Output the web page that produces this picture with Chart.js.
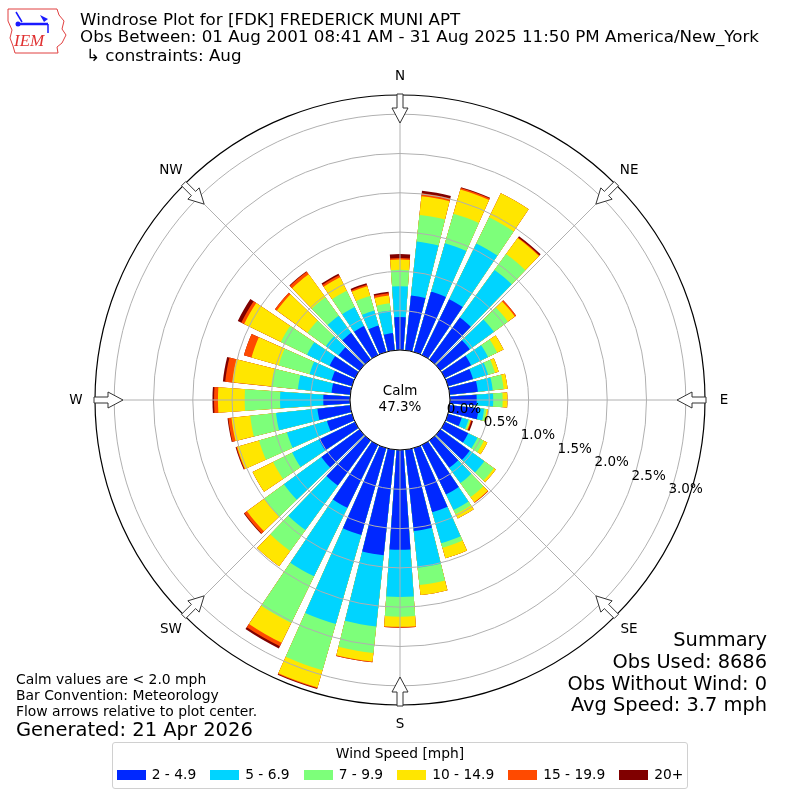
<!DOCTYPE html>
<html><head><meta charset="utf-8">
<script src="https://cdn.jsdelivr.net/npm/chart.js@4.4.1/dist/chart.umd.min.js"></script>
<style>
html,body{margin:0;padding:0;background:#fff;}
#wrap{position:relative;width:800px;height:800px;overflow:hidden;font-family:'DejaVu Sans',sans-serif;color:#000;}
#cw{position:absolute;left:0;top:0;width:800px;height:800px;}
.t{position:absolute;white-space:nowrap;line-height:1;}
.r{text-align:right;right:33px;}
#legend{position:absolute;left:112px;top:742px;width:574px;height:45px;border:1px solid #d0d0d0;border-radius:3px;background:#fff;}
#legTitle{position:absolute;top:4px;left:0;width:100%;text-align:center;font-size:13.8px;line-height:1;white-space:nowrap;}
#legItems{position:absolute;top:25px;left:0;width:100%;display:flex;justify-content:center;font-size:13.8px;line-height:1;white-space:nowrap;}
.li{display:flex;align-items:center;margin:0 7px;white-space:nowrap;flex:none;}
.lb{width:29px;height:10px;margin-right:6px;flex:none;}
</style></head><body>
<div id="wrap">
<div id="cw"><canvas id="c"></canvas></div>
<svg style="position:absolute;left:0;top:0" width="75" height="60" viewBox="0 0 75 60">
  <path d="M8,9 L57,9 L59,15 L64,21 L62,29 L66,35 L62,43 L57,47 L58,53 L15,53 L13,46 L10,38 L12,30 L8,21 Z" fill="#fff" stroke="#e04040" stroke-width="1"/>
  <line x1="20" y1="24" x2="48" y2="24" stroke="#1a1aff" stroke-width="2.5"/>
  <line x1="16" y1="12" x2="22" y2="22" stroke="#1a1aff" stroke-width="1.5"/>
  <path d="M40,15 L48,19 L44,22 Z" fill="#1a1aff"/>
  <line x1="48" y1="24" x2="48" y2="33" stroke="#1a1aff" stroke-width="1.5"/>
  <circle cx="18" cy="24" r="2.5" fill="#1a1aff"/>
  <text x="14" y="46" font-family="Liberation Serif,serif" font-style="italic" font-size="17" fill="#e03030">IEM</text>
</svg>
<div class="t" style="left:80px;top:11px;font-size:16.7px">Windrose Plot for [FDK] FREDERICK MUNI APT</div>
<div class="t" style="left:80px;top:28px;font-size:16.7px">Obs Between: 01 Aug 2001 08:41 AM - 31 Aug 2025 11:50 PM America/New_York</div>
<div class="t" style="left:86px;top:47px;font-size:16.7px">↳ constraints: Aug</div>
<div class="t r" style="top:630px;font-size:19.4px">Summary</div>
<div class="t r" style="top:652px;font-size:19.4px">Obs Used: 8686</div>
<div class="t r" style="top:674px;font-size:19.4px">Obs Without Wind: 0</div>
<div class="t r" style="top:695px;font-size:19.4px">Avg Speed: 3.7 mph</div>
<div class="t" style="left:16px;top:673px;font-size:13.9px">Calm values are &lt; 2.0 mph</div>
<div class="t" style="left:16px;top:689px;font-size:13.9px">Bar Convention: Meteorology</div>
<div class="t" style="left:16px;top:705px;font-size:13.9px">Flow arrows relative to plot center.</div>
<div class="t" style="left:16px;top:720px;font-size:19.5px">Generated: 21 Apr 2026</div>
<div id="legend"><div id="legTitle">Wind Speed [mph]</div><div id="legItems"></div></div>
</div>
<script>
// ---- data (percent of observations) ----
const directions = [0,10,20,30,40,50,60,70,80,90,100,110,120,130,140,150,160,170,180,190,200,210,220,230,240,250,260,270,280,290,300,310,320,330,340,350];
const speedBins = ['2 - 4.9','5 - 6.9','7 - 9.9','10 - 14.9','15 - 19.9','20+'];
const spd2to4_9 = [0.42,0.70,0.80,0.79,0.66,0.46,0.37,0.33,0.36,0.34,0.37,0.18,0.33,0.46,0.43,0.70,0.85,1.04,1.27,1.35,1.15,0.89,0.71,0.60,0.51,0.33,0.42,0.34,0.24,0.27,0.36,0.33,0.42,0.41,0.35,0.22];
const spd5to6_9 = [0.39,0.69,0.64,0.79,0.75,0.38,0.24,0.20,0.19,0.21,0.07,0.09,0.13,0.23,0.24,0.22,0.41,0.47,0.60,0.91,1.18,0.97,0.70,0.59,0.38,0.53,0.53,0.55,0.43,0.29,0.32,0.20,0.27,0.27,0.20,0.29];
const spd7to9_9 = [0.21,0.34,0.39,0.37,0.25,0.22,0.13,0.09,0.14,0.12,0.03,0.02,0.09,0.15,0.22,0.06,0.06,0.22,0.25,0.34,0.61,0.66,0.33,0.31,0.27,0.37,0.33,0.45,0.34,0.41,0.37,0.29,0.29,0.23,0.19,0.09];
const spd10to14_9 = [0.13,0.24,0.32,0.34,0.25,0.11,0.09,0.05,0.05,0.06,0.02,0.01,0.05,0.03,0.08,0.06,0.14,0.13,0.13,0.11,0.23,0.28,0.24,0.27,0.29,0.29,0.24,0.34,0.50,0.36,0.52,0.48,0.36,0.19,0.13,0.10];
const spd15to19_9 = [0.02,0.04,0.02,0,0.01,0.02,0,0,0,0,0,0.01,0,0,0.01,0,0,0,0.01,0.01,0.01,0.05,0,0.04,0,0.01,0.04,0.05,0.09,0.10,0.04,0.03,0.04,0.03,0.02,0.03];
const spd20plus = [0.05,0.03,0.01,0,0.02,0,0,0,0,0,0,0.02,0,0,0,0,0,0,0,0,0.01,0.03,0,0.01,0,0.01,0.01,0.02,0.03,0,0.05,0,0.01,0.02,0.02,0.02];
const radialTicks = [0,0.5,1.0,1.5,2.0,2.5,3.0];
const compassLabels = ['N','NE','E','SE','S','SW','W','NW'];
const calmPercent = 47.3;

// ---- styling ----
const speedColors = ['#0028ff','#00d4ff','#7dff7a','#ffe600','#ff4a00','#800000'];
const R_MIN = -0.6361, R_MAX = 3.2443;
const BAR_DEG = 8, GAP_DEG = 2;
const FONT = '"DejaVu Sans", sans-serif';

const series = [spd2to4_9, spd5to6_9, spd7to9_9, spd10to14_9, spd15to19_9, spd20plus];
const labels = [];
directions.forEach(d => { labels.push(d + '°'); labels.push(''); });
const running = directions.map(() => 0);
const datasets = series.map((s, k) => {
  const data = [];
  s.forEach((v, i) => { running[i] += v; data.push(+running[i].toFixed(4)); data.push(null); });
  return {
    label: speedBins[k], data,
    backgroundColor: speedColors[k], borderWidth: 0,
    angle: (ctx) => (ctx.dataIndex % 2 === 0 ? BAR_DEG : GAP_DEG)
  };
});

// legend (html)
const li = document.getElementById('legItems');
speedBins.forEach((name, k) => {
  const d = document.createElement('div'); d.className = 'li';
  d.innerHTML = '<div class="lb" style="background:' + speedColors[k] + '"></div><span>' + name + '</span>';
  li.appendChild(d);
});

const deco = {
  id: 'deco',
  afterDatasetsDraw(chart) {
    const s = chart.scales.r, ctx = chart.ctx;
    const cx = s.xCenter, cy = s.yCenter, R = s.drawingArea;
    const r0 = s.getDistanceFromCenterForValue(0);
    ctx.save();
    ctx.strokeStyle = '#b0b0b0'; ctx.lineWidth = 1;
    for (let k = 0; k < 8; k++) {
      const a = k * Math.PI / 4;
      ctx.beginPath();
      ctx.moveTo(cx + r0 * Math.sin(a), cy - r0 * Math.cos(a));
      ctx.lineTo(cx + R * Math.sin(a), cy - R * Math.cos(a));
      ctx.stroke();
    }
    ctx.restore();
  },
  afterDraw(chart) {
    const s = chart.scales.r, ctx = chart.ctx;
    const cx = s.xCenter, cy = s.yCenter, R = s.drawingArea;
    const r0 = s.getDistanceFromCenterForValue(0);
    ctx.save();
    // calm circle
    ctx.beginPath(); ctx.arc(cx, cy, r0, 0, Math.PI * 2);
    ctx.fillStyle = '#fff'; ctx.fill();
    ctx.strokeStyle = '#000'; ctx.lineWidth = 1; ctx.stroke();
    ctx.fillStyle = '#000'; ctx.textAlign = 'center'; ctx.textBaseline = 'middle';
    ctx.font = '13.5px ' + FONT;
    ctx.fillText('Calm', cx, cy - 9);
    ctx.fillText(calmPercent.toFixed(1) + '%', cx, cy + 7);
    // radial tick labels
    const ang = 20 * Math.PI / 180;
    radialTicks.forEach(v => {
      const r = s.getDistanceFromCenterForValue(v);
      ctx.fillText(v.toFixed(1) + '%', cx + r * Math.cos(ang) + 17, cy + r * Math.sin(ang) - 8);
    });
    // arrows + compass labels
    compassLabels.forEach((lab, k) => {
      const a = k * Math.PI / 4;
      const ux = Math.sin(a), uy = -Math.cos(a), px = Math.cos(a), py = Math.sin(a);
      const P = (d, w) => [cx + ux * d + px * w, cy + uy * d + py * w];
      const pts = [P(R + 1, -3), P(R - 13, -3), P(R - 13, -8), P(R - 28, 0), P(R - 13, 8), P(R - 13, 3), P(R + 1, 3)];
      ctx.beginPath(); ctx.moveTo(pts[0][0], pts[0][1]);
      for (let i = 1; i < pts.length; i++) ctx.lineTo(pts[i][0], pts[i][1]);
      ctx.closePath();
      ctx.fillStyle = '#fff'; ctx.fill();
      ctx.strokeStyle = '#333'; ctx.lineWidth = 1; ctx.stroke();
      ctx.fillStyle = '#000';
      ctx.fillText(lab, cx + ux * (R + 19), cy + uy * (R + 19));
    });
    ctx.restore();
  }
};

new Chart(document.getElementById('c'), {
  type: 'polarArea',
  data: { labels, datasets },
  options: {
    responsive: true, maintainAspectRatio: false, animation: false,
    layout: { padding: 95 },
    events: [],
    plugins: { legend: { display: false }, tooltip: { enabled: false } },
    scales: {
      r: {
        min: R_MIN, max: R_MAX, bounds: 'data', startAngle: -BAR_DEG / 2,
        afterBuildTicks: (scale) => { scale.ticks = [R_MIN, ...radialTicks, R_MAX].map(v => ({ value: v })); },
        ticks: { display: false },
        pointLabels: { display: false },
        angleLines: { display: false },
        grid: {
          z: 1, circular: true,
          color: (c) => { const v = c.tick ? c.tick.value : 0; if (v === R_MAX) return '#000'; if (v === R_MIN) return 'rgba(0,0,0,0)'; return '#b0b0b0'; },
          lineWidth: (c) => (c.tick && c.tick.value === R_MAX ? 1.2 : 1)
        }
      }
    }
  },
  plugins: [deco]
});
</script>
</body></html>
